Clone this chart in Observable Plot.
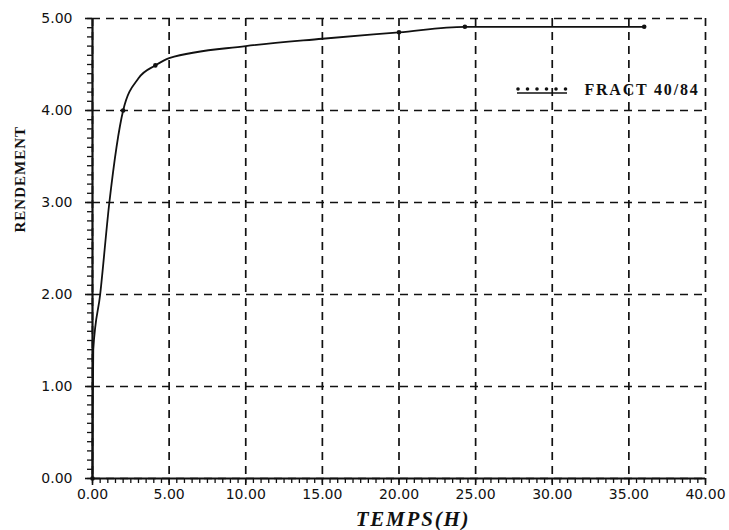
<!DOCTYPE html>
<html><head><meta charset="utf-8">
<script src="https://cdn.jsdelivr.net/npm/d3@7"></script>
<script src="https://cdn.jsdelivr.net/npm/@observablehq/plot@0.6"></script>
<style>
body{margin:0;background:#fff}
#wrap{position:relative;width:729px;height:530px}
#legend{position:absolute;left:514px;top:82px}
</style>
</head><body><div id="wrap"></div>
<script>
// Curve (time in hours, yield)
const curveT = [0, 0.02, 0.05, 0.5, 1.1, 2.0, 3.0, 4.1, 5.0, 10, 15, 20, 24.3, 36];
const curveY = [0, 0.8, 1.4, 2.0, 3.0, 4.0, 4.35, 4.49, 4.57, 4.70, 4.78, 4.85, 4.91, 4.91];
// Plotted measurement markers
const markerT = [0, 2.0, 4.1, 20, 24.3, 36];
const markerY = [0, 4.0, 4.49, 4.85, 4.91, 4.91];
// Axes
const xTicks = [0, 5, 10, 15, 20, 25, 30, 35, 40];
const yTicks = [0, 1, 2, 3, 4, 5];
const xMinorStep = 0.5;
const yMinorStep = 0.1;
const xTitle = "TEMPS(H)";
const yTitle = "RENDEMENT";
const seriesName = "FRACT 40/84";

const curve = curveT.map((t, i) => ({t, y: curveY[i]}));
const markers = markerT.map((t, i) => ({t, y: markerY[i]}));
const xMinor = d3.range(0, 40 + 1e-9, xMinorStep);
const yMinor = d3.range(0, 5 + 1e-9, yMinorStep);

const tickFont = "DejaVu Sans";
const fmt = d => d.toFixed(2);

const chart = Plot.plot({
  width: 729, height: 530,
  marginLeft: 92, marginRight: 24, marginTop: 18, marginBottom: 52,
  style: {background: "#fff", color: "#111"},
  x: {domain: [0, 40], label: null},
  y: {domain: [0, 5], label: null},
  marks: [
    Plot.gridX(xTicks, {stroke: "#111", strokeOpacity: 1, strokeWidth: 1.7, strokeDasharray: "8,6"}),
    Plot.gridY(yTicks, {stroke: "#111", strokeOpacity: 1, strokeWidth: 1.7, strokeDasharray: "8,6"}),
    Plot.axisX(xMinor, {anchor: "bottom", tickSize: 5, tickFormat: () => "", strokeWidth: 1.3}),
    Plot.axisY(yMinor, {anchor: "left", tickSize: 5, tickFormat: () => "", strokeWidth: 1.3}),
    Plot.axisX(xTicks, {anchor: "bottom", tickSize: 7, tickPadding: 4, tickFormat: fmt,
      fontSize: 14, fontFamily: tickFont, strokeWidth: 1.6}),
    Plot.axisY(yTicks, {anchor: "left", tickSize: 7, tickPadding: 13, tickFormat: fmt,
      fontSize: 14, fontFamily: tickFont, strokeWidth: 1.6}),
    Plot.ruleX([0], {stroke: "#111", strokeWidth: 2.2}),
    Plot.ruleY([0], {stroke: "#111", strokeWidth: 2.2}),
    Plot.line(curve, {x: "t", y: "y", curve: "monotone-x", stroke: "#111", strokeWidth: 1.8}),
    Plot.dot(markers, {x: "t", y: "y", r: 2.3, fill: "#111", stroke: null}),
    Plot.text([xTitle], {frameAnchor: "bottom", lineAnchor: "middle", dx: 14, dy: 41, fontSize: 21,
      fontWeight: "bold", fontStyle: "italic", fontFamily: "Liberation Serif", fill: "#111"}),
    Plot.text([yTitle], {frameAnchor: "left", lineAnchor: "middle", dx: -72, dy: -16, rotate: -90,
      fontSize: 15, fontWeight: "bold", fontFamily: "Liberation Serif", fill: "#111"}),
    Plot.text([seriesName], {frameAnchor: "top-right", textAnchor: "end", lineAnchor: "middle",
      dx: -6, dy: 71, fontSize: 16, fontWeight: "bold", fontFamily: "Liberation Serif", fill: "#111"})
  ]
});
const spacing = {[xTitle]: "1.8px", [yTitle]: "1px", [seriesName]: "1.8px"};
chart.querySelectorAll("text").forEach(t => {
  const s = spacing[t.textContent];
  if (s) t.style.letterSpacing = s;
});
document.getElementById("wrap").appendChild(chart);

// Legend sample (line with markers)
const leg = document.createElement("div");
leg.id = "legend";
const ns = "http://www.w3.org/2000/svg";
const ls = document.createElementNS(ns, "svg");
ls.setAttribute("width", 60); ls.setAttribute("height", 16);
const ln = document.createElementNS(ns, "line");
ln.setAttribute("x1", 3); ln.setAttribute("x2", 53); ln.setAttribute("y1", 11); ln.setAttribute("y2", 11);
ln.setAttribute("stroke", "#111"); ln.setAttribute("stroke-width", 1.6);
ls.appendChild(ln);
for (let i = 0; i < 6; i++) {
  const c = document.createElementNS(ns, "circle");
  c.setAttribute("cx", 4 + i * 9.5); c.setAttribute("cy", 7); c.setAttribute("r", 1.8);
  c.setAttribute("fill", "#111");
  ls.appendChild(c);
}
leg.appendChild(ls);
document.getElementById("wrap").appendChild(leg);
</script>
</body></html>
